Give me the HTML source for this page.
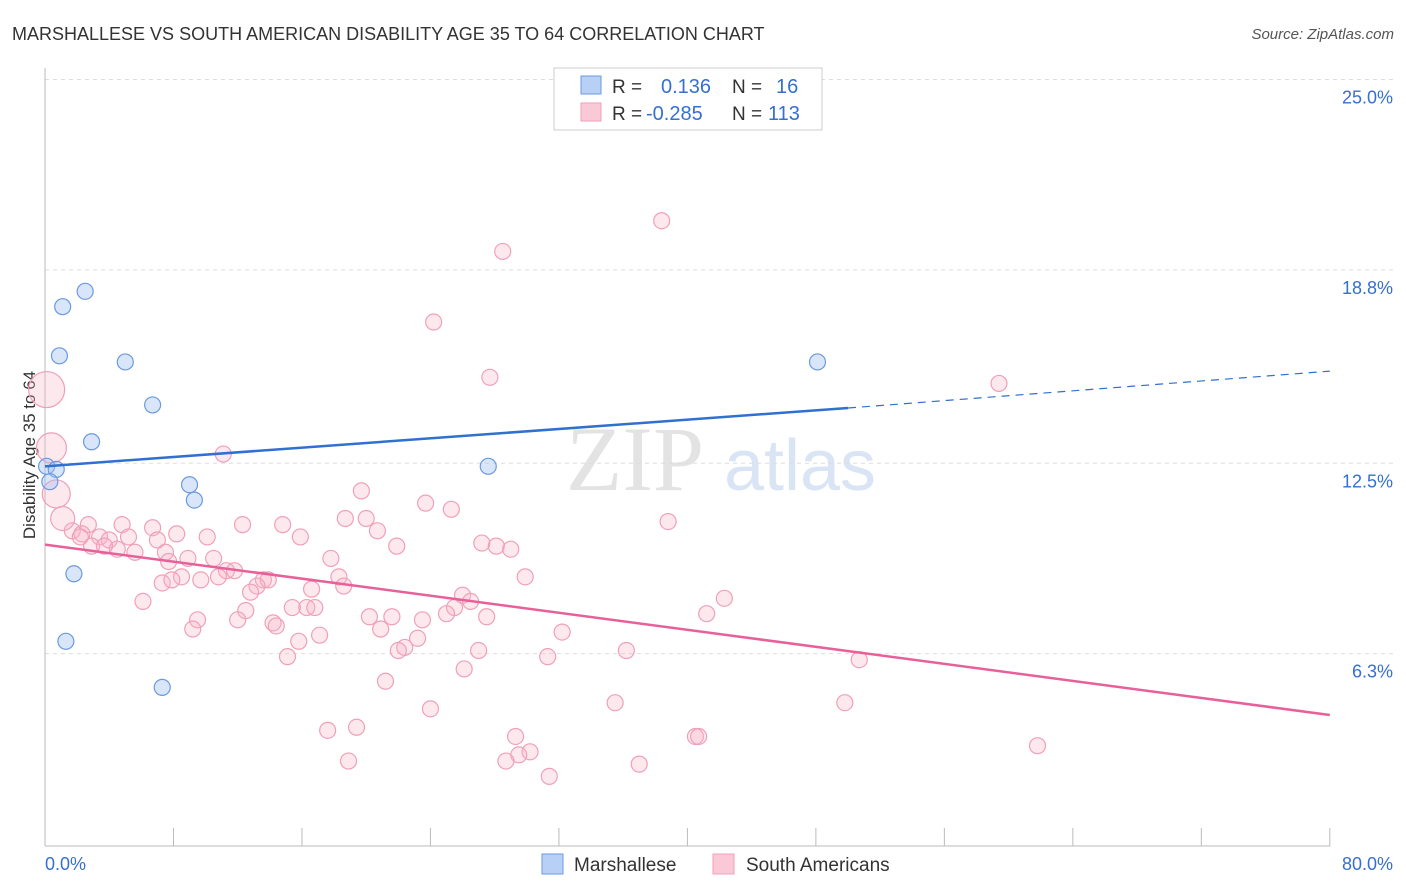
<!DOCTYPE html>
<html><head><meta charset="utf-8">
<style>
body{margin:0;background:#fff;font-family:"Liberation Sans",sans-serif;}
#wrap{position:relative;width:1406px;height:892px;overflow:hidden;}
</style></head>
<body>
<div id="wrap">
<svg id="svg" width="1406" height="892" xmlns="http://www.w3.org/2000/svg">
<text x="12" y="40" font-size="18" fill="#333">MARSHALLESE VS SOUTH AMERICAN DISABILITY AGE 35 TO 64 CORRELATION CHART</text>
<text x="1394" y="39" font-size="15" fill="#555" font-style="italic" text-anchor="end">Source: ZipAtlas.com</text>
<text x="35" y="455" font-size="17" fill="#333" text-anchor="middle" transform="rotate(-90 35 455)">Disability Age 35 to 64</text>
<g>
<text x="635" y="490" font-size="92" fill="#d8d8d8" font-family="Liberation Serif,serif" text-anchor="middle" opacity="0.7">ZIP</text>
<text x="800" y="490" font-size="72" fill="#c9daf2" text-anchor="middle" opacity="0.7">atlas</text>
</g>
<g id="grid"></g>
<g id="axes"></g>
<g id="marks"></g>
<g>
<rect x="554" y="68" width="268" height="62" fill="#fff" stroke="#ccc"/>
<rect x="581" y="76" width="20" height="18" fill="#b8d0f5" stroke="#6a9ae0"/>
<rect x="581" y="103" width="20" height="18" fill="#fbc8d8" stroke="#f0a0b8"/>
<text x="612" y="93" font-size="19" fill="#333">R = </text><text x="661" y="93" font-size="20" fill="#3570d0">0.136</text>
<text x="732" y="93" font-size="19" fill="#333">N = </text><text x="776" y="93" font-size="20" fill="#3570d0">16</text>
<text x="612" y="120" font-size="19" fill="#333">R = </text><text x="646" y="120" font-size="20" fill="#3570d0">-0.285</text>
<text x="732" y="120" font-size="19" fill="#333">N = </text><text x="768" y="120" font-size="20" fill="#3570d0">113</text>
</g>
<g>
<rect x="542" y="854" width="21" height="20" fill="#b8d0f5" stroke="#6a9ae0"/>
<text x="574" y="871" font-size="19" fill="#333">Marshallese</text>
<rect x="713" y="854" width="21" height="20" fill="#fbc8d8" stroke="#f0a0b8"/>
<text x="746" y="871" font-size="19" fill="#333">South Americans</text>
</g>
</svg>
</div>
<script>
const yTicks=[6.3,12.5,18.8,25.0];
const xTickLabels=["0.0%","80.0%"];
const blueX=[0.1,0.7,0.3,1.1,2.5,0.9,5.0,6.7,2.9,9.0,9.3,1.8,1.3,7.3,27.6,48.1];
const blueY=[12.4,12.3,11.9,17.6,18.1,16.0,15.8,14.4,13.2,11.8,11.3,8.9,6.7,5.2,12.4,15.8];
const pinkX=[38.4,28.5,24.2,27.7,59.4,11.1,19.7,23.7,25.3,18.7,20.0,38.8,12.3,14.8,20.7,4.8,6.7,2.7,1.7,2.3,3.4,4.0,5.2,7.0,8.2,10.1,15.9,27.2,28.1,29.0,21.9,4.5,5.6,7.5,2.9,3.7,2.2,8.9,10.5,17.8,7.7,11.3,11.8,10.8,13.6,13.9,13.2,8.5,9.7,7.3,7.9,18.3,16.6,18.6,29.9,12.8,6.1,26.0,26.5,42.3,25.5,16.3,16.8,15.4,12.5,9.5,12.0,20.2,21.6,23.5,27.5,25.0,41.2,9.2,14.2,14.4,20.9,32.2,17.1,15.8,23.2,22.4,22.0,27.0,36.2,31.3,50.7,15.1,26.1,21.2,35.5,49.8,24.0,19.4,17.6,29.3,40.5,40.7,61.8,30.2,29.5,18.9,28.7,37.0,31.4];
const pinkY=[20.4,19.4,17.1,15.3,15.1,12.8,11.6,11.2,11.0,10.7,10.7,10.6,10.5,10.5,10.3,10.5,10.4,10.5,10.3,10.2,10.1,10.0,10.1,10.0,10.2,10.1,10.1,9.9,9.8,9.7,9.8,9.7,9.6,9.6,9.8,9.8,10.1,9.4,9.4,9.4,9.3,9.0,9.0,8.8,8.7,8.7,8.5,8.8,8.7,8.6,8.7,8.8,8.4,8.5,8.8,8.3,8.0,8.2,8.0,8.1,7.8,7.8,7.8,7.8,7.7,7.4,7.4,7.5,7.5,7.4,7.5,7.6,7.6,7.1,7.3,7.2,7.1,7.0,6.9,6.7,6.8,6.5,6.4,6.4,6.4,6.2,6.1,6.2,5.8,5.4,4.7,4.7,4.5,3.9,3.8,3.6,3.6,3.6,3.3,3.1,3.0,2.8,2.8,2.7,2.3];
const bigPinkX=[0.1,0.4,0.7,1.1];
const bigPinkY=[14.9,13.0,11.5,10.7];
const bigPinkR=[18,15,14,12];
const blueTrend=[[0,12.4],[50,14.3],[80,15.5]];
const pinkTrend=[[0,9.85],[80,4.3]];
const X=v=>45+v*16.06, Y=v=>847-v*30.7;
const NS="http://www.w3.org/2000/svg";
function mk(tag,attrs,parent){const e=document.createElementNS(NS,tag);for(const k in attrs)e.setAttribute(k,attrs[k]);parent.appendChild(e);return e;}
const grid=document.getElementById('grid'),axes=document.getElementById('axes'),marks=document.getElementById('marks');
yTicks.forEach(t=>{
 const l=mk('line',{x1:45,x2:1394,y1:Y(t),y2:Y(t),stroke:'#ddd','stroke-dasharray':'4,4'},grid);
 
 
 const tx=mk('text',{x:1393,y:Y(t)+24,'font-size':18,fill:'#3570d0','text-anchor':'end'},axes);
 tx.textContent=t.toFixed(1)+'%';
 
 
});
const ax=mk('line',{x1:45,x2:1330,y1:846,y2:846,stroke:'#bbb'},axes);


const ay=mk('line',{x1:45,x2:45,y1:68,y2:846,stroke:'#bbb'},axes);


for(let i=0;i<=10;i++){const t=mk('line',{x1:X(i*8),x2:X(i*8),y1:828,y2:846,stroke:'#bbb'},axes);
 
 }
[[0,'start',45],[80,'end',1393]].forEach((d,i)=>{const t=mk('text',{x:d[2],y:870,'font-size':18,fill:'#3570d0','text-anchor':d[1]},axes);t.textContent=xTickLabels[i];
 
 });
pinkX.forEach((v,i)=>{const c=mk('circle',{cx:X(v),cy:Y(pinkY[i]),r:8,fill:'rgba(248,180,200,0.3)',stroke:'#f0a0b8','stroke-width':1.2},marks);
 
 });
bigPinkX.forEach((v,i)=>{const c=mk('circle',{cx:X(v),cy:Y(bigPinkY[i]),r:bigPinkR[i],fill:'rgba(248,180,200,0.3)',stroke:'#f0a0b8','stroke-width':1.2},marks);
 
 });
blueX.forEach((v,i)=>{const c=mk('circle',{cx:X(v),cy:Y(blueY[i]),r:8,fill:'rgba(160,190,240,0.4)',stroke:'#6a9ae0','stroke-width':1.2},marks);
 
 });
const bt=mk('line',{x1:X(blueTrend[0][0]),y1:Y(blueTrend[0][1]),x2:X(blueTrend[1][0]),y2:Y(blueTrend[1][1]),stroke:'#3070d0','stroke-width':2.5},marks);


const bd=mk('line',{x1:X(blueTrend[1][0]),y1:Y(blueTrend[1][1]),x2:X(blueTrend[2][0]),y2:Y(blueTrend[2][1]),stroke:'#3070d0','stroke-width':1.2,'stroke-dasharray':'8,6'},marks);


const pt=mk('line',{x1:X(pinkTrend[0][0]),y1:Y(pinkTrend[0][1]),x2:X(pinkTrend[1][0]),y2:Y(pinkTrend[1][1]),stroke:'#e8609a','stroke-width':2.5},marks);


</script>
</body></html>
